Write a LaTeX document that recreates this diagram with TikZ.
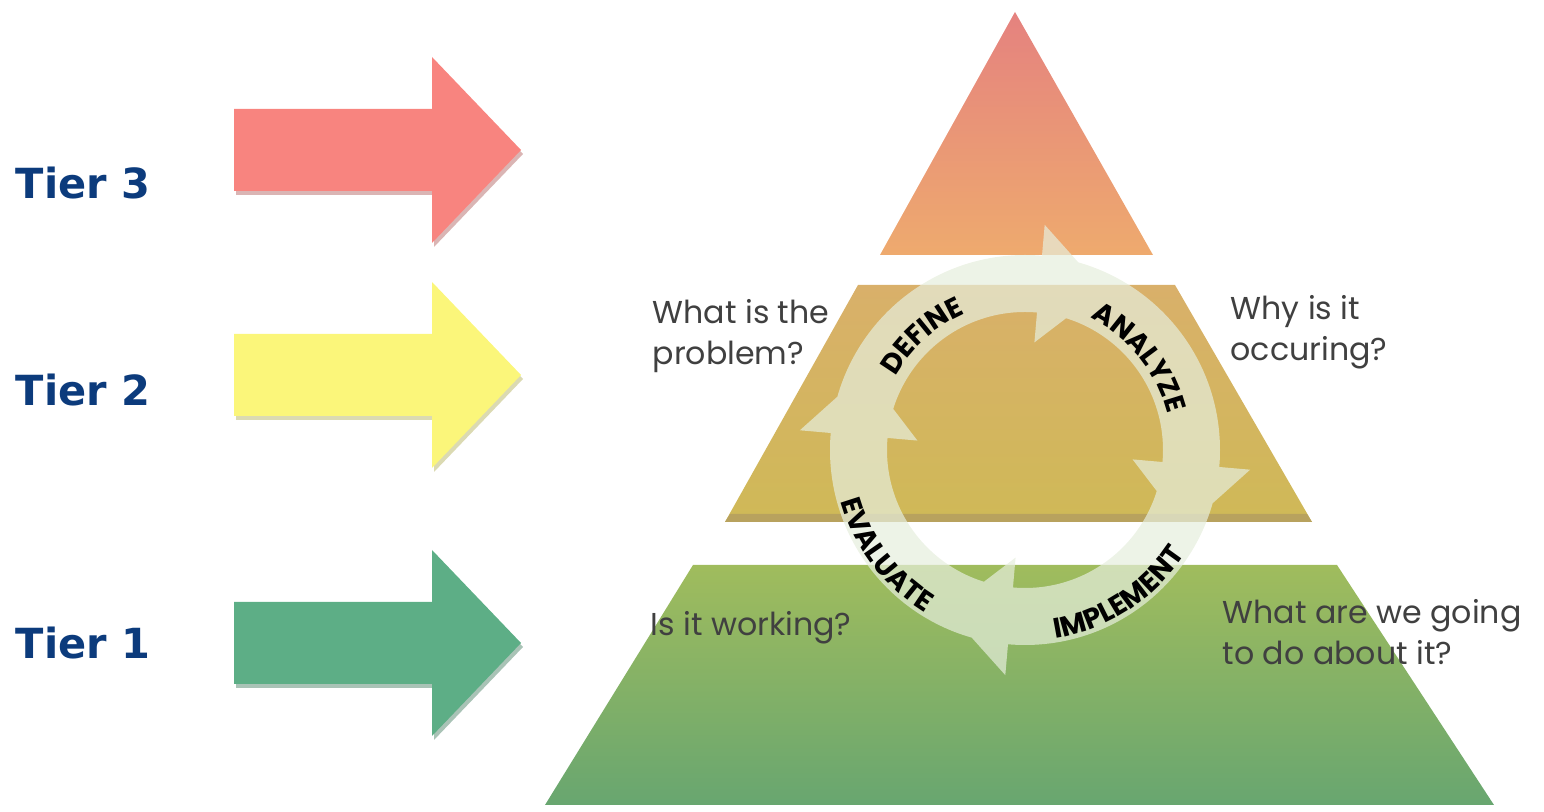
\documentclass[tikz,border=0pt]{standalone}
\usepackage{fontspec}
\usetikzlibrary{decorations.text}
\newfontfamily\tierfont{DejaVu Sans}
\newfontfamily\askfont{Poppins}
\definecolor{tierblue}{HTML}{0C3B7C}
\definecolor{tierred}{HTML}{F8847F}
\definecolor{tieryellow}{HTML}{FBF67A}
\definecolor{tiergreen}{HTML}{5DAE86}
\definecolor{peaktop}{HTML}{E5827F}
\definecolor{peakbottom}{HTML}{EEAA6E}
\definecolor{midtop}{HTML}{D9B06A}
\definecolor{midbottom}{HTML}{CFB957}
\definecolor{midedge}{HTML}{B8A25E}
\definecolor{basetop}{HTML}{A0BC5D}
\definecolor{basebottom}{HTML}{68A670}
\definecolor{ringwhite}{HTML}{E6EEDD}
\definecolor{asktext}{HTML}{404040}

\begin{document}
\begin{tikzpicture}[x=0.01cm, y=0.01cm,
    tier/.style={font=\tierfont\bfseries\fontsize{11.8}{14}\selectfont, text=tierblue, anchor=west, inner sep=0pt},
    ask/.style={font=\askfont\fontsize{9}{11.6}\selectfont, text=asktext, align=left, anchor=west, inner sep=0pt},
    ring/.style={fill=ringwhite, fill opacity=0.7},
    cycletext/.style={decorate, decoration={text along path, text align=center,
        text={|\askfont\bfseries\fontsize{8}{8}\selectfont|#1}}}]
  \useasboundingbox (0,0) rectangle (1544,812);

  % Tier arrows
  \foreach \ty/\tc in {662/tierred, 437/tieryellow, 169/tiergreen} {
    \fill[\tc!70!black, opacity=0.45, shift={(2,-4)}] (234,\ty-41) -- (432,\ty-41) -- (432,\ty-93) -- (521,\ty) -- (432,\ty+93) -- (432,\ty+41) -- (234,\ty+41) -- cycle;
    \fill[\tc] (234,\ty-41) -- (432,\ty-41) -- (432,\ty-93) -- (521,\ty) -- (432,\ty+93) -- (432,\ty+41) -- (234,\ty+41) -- cycle;
  }
  \node[tier] (tier3) at (15,629) {Tier 3};
  \node[tier] (tier2) at (15,422) {Tier 2};
  \node[tier] (tier1) at (15,169) {Tier 1};

  % Pyramid
  \shade[top color=peaktop, bottom color=peakbottom] (1015,800) -- (1153,557) -- (880,557) -- cycle;
  \shade[top color=midtop, bottom color=midbottom] (858,527) -- (1175,527) -- (1312,290) -- (725,290) -- cycle;
  \fill[midedge] (725,290) -- (1312,290) -- (1307,298) -- (730,298) -- cycle;
  \shade[top color=basetop, bottom color=basebottom] (693,247) -- (1337,247) -- (1494,7) -- (545,7) -- cycle;

  % Cycle
  \begin{scope}[shift={(1025,362)}]
    \fill[ring] (195,0) arc[start angle=0, end angle=360, radius=195] -- cycle
      (138,0) arc[start angle=0, end angle=-360, radius=138] -- cycle
      \foreach \a in {85,-5,-95,175} { (\a:226) -- (\a:108) -- (\a-21:178) -- cycle };
    \path[cycletext=DEFINE] (182:149) arc[start angle=182, end angle=82, radius=149];
    \path[cycletext=ANALYZE] (89:147) arc[start angle=89, end angle=-11, radius=147];
    \path[cycletext=EVALUATE] (167:191) arc[start angle=167, end angle=267, radius=191];
    \path[cycletext=IMPLEMENT] (-107:191) arc[start angle=-107, end angle=-7, radius=191];
  \end{scope}

  % Questions
  \node[ask] (whatq) at (652,476) {What is the\\problem?};
  \node[ask] (whyq) at (1230,480) {Why is it\\occuring?};
  \node[ask] (workq) at (650,184) {Is it working?};
  \node[ask] (doq) at (1222,180) {What are we going\\to do about it?};
\end{tikzpicture}
\end{document}
